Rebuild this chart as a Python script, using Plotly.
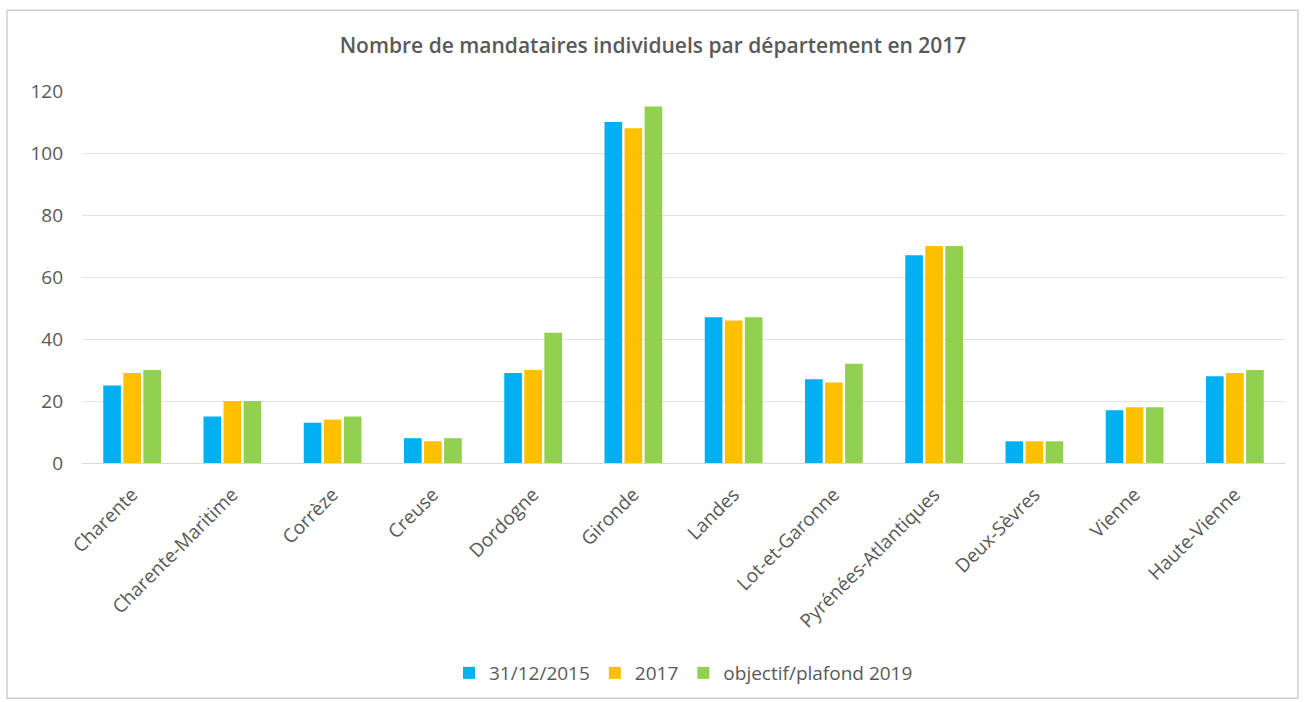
import plotly.graph_objects as go

departements = ["Charente", "Charente-Maritime", "Corrèze", "Creuse", "Dordogne", "Gironde",
                "Landes", "Lot-et-Garonne", "Pyrénées-Atlantiques", "Deux-Sèvres", "Vienne",
                "Haute-Vienne"]
serie_2015 = [25, 15, 13, 8, 29, 110, 47, 27, 67, 7, 17, 28]
serie_2017 = [29, 20, 14, 7, 30, 108, 46, 26, 70, 7, 18, 29]
serie_2019 = [30, 20, 15, 8, 42, 115, 47, 32, 70, 7, 18, 30]
noms_series = ["31/12/2015", "2017", "objectif/plafond 2019"]
couleurs = ["#00B0F0", "#FFC000", "#92D050"]
y_ticks = [0, 20, 40, 60, 80, 100, 120]

FONT = "'Open Sans', sans-serif"
GREY = "#595959"

fig = go.Figure()
for nom, vals, c in zip(noms_series, [serie_2015, serie_2017, serie_2019], couleurs):
    fig.add_trace(go.Bar(x=departements, y=vals, name=nom, marker_color=c,
                         marker_line_width=0))

W, H = 1306, 702
L, R, T, B = 82, 21, 91, 238
pw, ph = W - L - R, H - T - B

def px(x):
    return (x - L) / pw

def py(y):
    return (H - B - y) / ph

fig.update_layout(
    width=W, height=H,
    margin=dict(l=L, r=R, t=T, b=B),
    paper_bgcolor="white", plot_bgcolor="white",
    barmode="group", bargap=0.4, bargroupgap=0.12,
    font=dict(family=FONT, color=GREY, size=18),
    title=dict(text="Nombre de mandataires individuels par département en 2017",
               x=0.5, xanchor="center", y=1 - 46 / H, yanchor="middle",
               font=dict(size=21, color=GREY, family=FONT, weight=600)),
    showlegend=True,
    legend=dict(orientation="h", x=0.5, xanchor="center", y=py(673), yanchor="middle",
                font=dict(size=19, color=GREY), itemwidth=30, traceorder="normal"),
    xaxis=dict(tickangle=-45, showgrid=False, showline=True, linecolor="#D9D9D9",
               linewidth=1, ticks="", ticklabelstandoff=12,
               tickfont=dict(size=19, color=GREY)),
    yaxis=dict(range=[0, 120], tickvals=y_ticks, showgrid=True, gridcolor="#E3E3E3",
               gridwidth=1, zeroline=False, showline=False, ticks="",
               ticklabelstandoff=18, tickfont=dict(size=19, color=GREY)),
    shapes=[dict(type="rect", xref="paper", yref="paper",
                 x0=px(7), x1=px(1298), y0=py(700), y1=py(10),
                 line=dict(color="#D0D0D0", width=1.5), fillcolor="rgba(0,0,0,0)",
                 layer="below")],
)

fig.write_html("out.html")
